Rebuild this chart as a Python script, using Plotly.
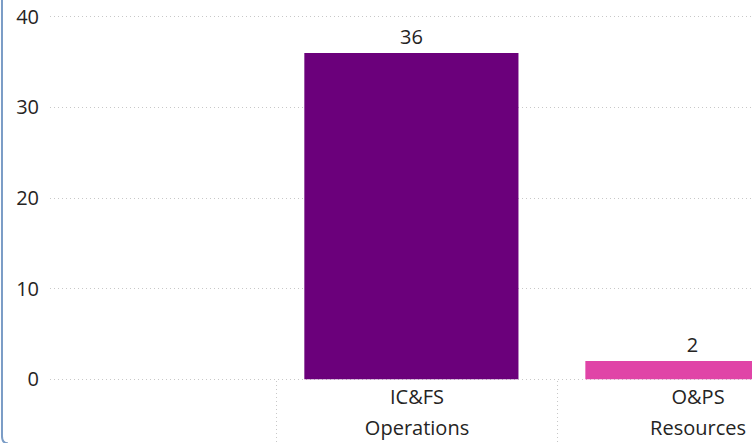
import plotly.graph_objects as go

# Data
categories_line1 = ["", "IC&FS", "O&PS"]
categories_line2 = ["", "Operations", "Resources"]
values = [None, 36, 2]
bar_colors = ["#6B007B", "#6B007B", "#E044A7"]
y_ticks = [0, 10, 20, 30, 40]

positions = list(range(len(categories_line1)))
x_range = [-0.306, 2.192]

fig = go.Figure()
fig.add_trace(go.Bar(
    x=positions,
    y=values,
    marker=dict(color=bar_colors, line=dict(width=0)),
    width=0.762,
    offset=-0.401,
    text=[("" if v is None else str(v)) for v in values],
    textposition="outside",
    textfont=dict(family="Open Sans", size=20, color="#252423"),
    cliponaxis=False,
    hoverinfo="skip",
))
# invisible helper trace so the second label row (xaxis2) is drawn
fig.add_trace(go.Scatter(
    x=positions, y=[0 for _ in positions], xaxis="x2", yaxis="y",
    mode="markers", marker=dict(opacity=0), hoverinfo="skip",
))

# dotted category separators below the axis
for p in positions[:-1]:
    fig.add_shape(type="line", xref="x", yref="paper",
                  x0=p + 0.5, x1=p + 0.5, y0=0, y1=-0.2,
                  line=dict(color="#C8C8C8", width=1, dash="1px,3px"))

# left container border
fig.add_shape(type="path", xref="paper", yref="paper",
              path="M -0.0684,1.1 L -0.0684,-0.15 Q -0.0684,-0.17 -0.060,-0.17",
              line=dict(color="#7A9CC6", width=2))

tickfont = dict(family="Open Sans", size=20, color="#252423")

fig.update_layout(
    width=752, height=443,
    margin=dict(l=50, r=0, t=15, b=62, autoexpand=False),
    plot_bgcolor="white", paper_bgcolor="white",
    showlegend=False,
    font=dict(family="Open Sans", size=20, color="#252423"),
    xaxis=dict(
        tickmode="array", tickvals=positions, ticktext=categories_line1,
        range=x_range, showgrid=False, zeroline=False,
        showline=False, ticks="", automargin=False, ticklabelstandoff=2,
        tickfont=tickfont,
    ),
    xaxis2=dict(
        overlaying="x", side="bottom", anchor="y",
        tickmode="array", tickvals=positions, ticktext=categories_line2,
        range=x_range, showgrid=False, zeroline=False,
        showline=False, ticks="", automargin=False, ticklabelstandoff=33,
        tickfont=tickfont,
    ),
    yaxis=dict(
        range=[-0.2, 40.2], tickvals=y_ticks, showgrid=True,
        gridcolor="#C8C8C8", griddash="1px,3px", gridwidth=1,
        zeroline=False, showline=False, ticks="", ticklabelstandoff=10,
        automargin=False,
        tickfont=tickfont,
    ),
)

fig.write_html("out.html",
               config={"displayModeBar": False},
               post_script="document.body.style.margin='0';document.body.style.padding='0';")
